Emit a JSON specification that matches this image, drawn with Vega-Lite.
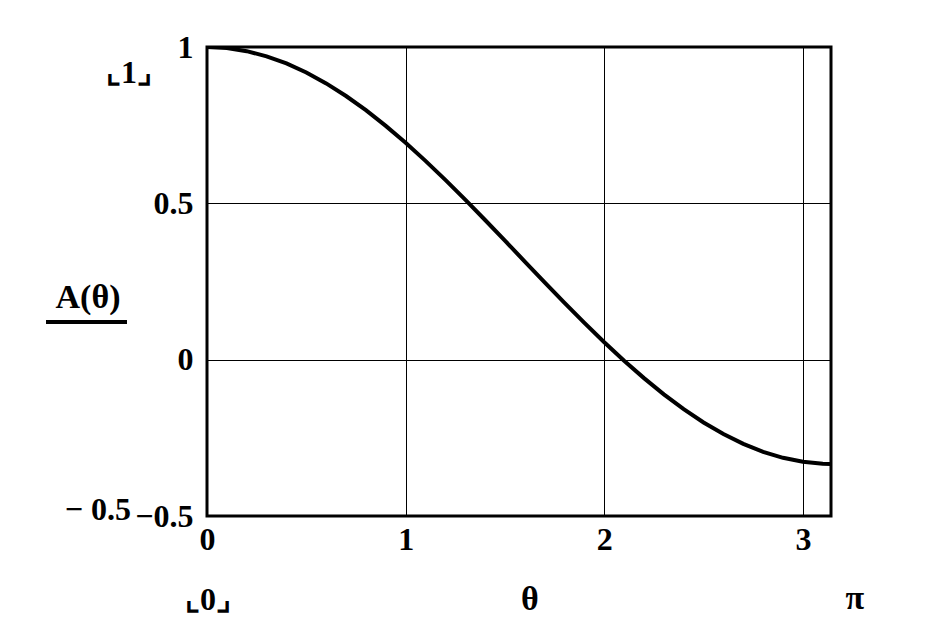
{
  "$schema": "https://vega.github.io/schema/vega-lite/v6.json",
  "autosize": {"type": "none"},
  "width": 624,
  "height": 469,
  "padding": {"left": 207, "top": 47, "right": 113, "bottom": 126},
  "background": "white",
  "config": {
    "view": {"stroke": "black", "strokeWidth": 3},
    "font": "Liberation Serif"
  },
  "datasets": {
    "curve": [
      {"theta": 0.0, "A": 1.0},
      {"theta": 0.1, "A": 0.99667},
      {"theta": 0.2, "A": 0.98671},
      {"theta": 0.3, "A": 0.97023},
      {"theta": 0.4, "A": 0.94737},
      {"theta": 0.5, "A": 0.91839},
      {"theta": 0.6, "A": 0.88356},
      {"theta": 0.7, "A": 0.84323},
      {"theta": 0.8, "A": 0.79781},
      {"theta": 0.9, "A": 0.74774},
      {"theta": 1.0, "A": 0.69353},
      {"theta": 1.1, "A": 0.63573},
      {"theta": 1.2, "A": 0.57491},
      {"theta": 1.3, "A": 0.51167},
      {"theta": 1.4, "A": 0.44665},
      {"theta": 1.5, "A": 0.38049},
      {"theta": 1.6, "A": 0.31387},
      {"theta": 1.7, "A": 0.24744},
      {"theta": 1.8, "A": 0.18187},
      {"theta": 1.9, "A": 0.11781},
      {"theta": 2.0, "A": 0.0559},
      {"theta": 2.1, "A": -0.00323},
      {"theta": 2.2, "A": -0.059},
      {"theta": 2.3, "A": -0.11085},
      {"theta": 2.4, "A": -0.15826},
      {"theta": 2.5, "A": -0.20076},
      {"theta": 2.6, "A": -0.23793},
      {"theta": 2.7, "A": -0.26938},
      {"theta": 2.8, "A": -0.29481},
      {"theta": 2.9, "A": -0.31397},
      {"theta": 3.0, "A": -0.32666},
      {"theta": 3.1, "A": -0.33276},
      {"theta": 3.14159, "A": -0.33333}
    ],
    "labels": [
      {"theta": -0.3927, "A": 0.917, "text": "⌞1⌟", "size": 32},
      {"theta": -0.549, "A": -0.481, "text": "− 0.5", "size": 32},
      {"theta": 0.005, "A": -0.769, "text": "⌞0⌟", "size": 32},
      {"theta": 1.626, "A": -0.769, "text": "θ", "size": 34},
      {"theta": 3.262, "A": -0.765, "text": "π", "size": 34},
      {"theta": -0.599, "A": 0.197, "text": "A(θ)", "size": 34}
    ],
    "underline": [
      {"x1": -0.8105, "x2": -0.4028, "A": 0.1205}
    ]
  },
  "layer": [
    {
      "data": {"name": "curve"},
      "mark": {"type": "line", "color": "black", "strokeWidth": 4, "clip": true},
      "encoding": {
        "x": {
          "field": "theta", "type": "quantitative",
          "scale": {"domain": [0, 3.14159], "nice": false, "zero": false},
          "axis": {
            "values": [0, 1, 2, 3], "format": "d", "title": null,
            "grid": true, "gridColor": "black", "gridOpacity": 1, "gridWidth": 1,
            "domain": false, "ticks": false,
            "labelFont": "Liberation Serif", "labelFontWeight": "bold", "labelFontSize": 32,
            "labelColor": "black", "labelPadding": 8, "labelFlush": false
          }
        },
        "y": {
          "field": "A", "type": "quantitative",
          "scale": {"domain": [-0.5, 1], "nice": false, "zero": false},
          "axis": {
            "values": [-0.5, 0, 0.5, 1], "format": "~g", "title": null,
            "grid": true, "gridColor": "black", "gridOpacity": 1, "gridWidth": 1,
            "domain": false, "ticks": false,
            "labelFont": "Liberation Serif", "labelFontWeight": "bold", "labelFontSize": 32,
            "labelColor": "black", "labelPadding": 14, "labelFlush": false
          }
        }
      }
    },
    {
      "data": {"name": "labels"},
      "mark": {"type": "text", "font": "Liberation Serif", "fontWeight": "bold", "color": "black", "align": "center", "baseline": "middle"},
      "encoding": {
        "x": {"field": "theta", "type": "quantitative"},
        "y": {"field": "A", "type": "quantitative"},
        "text": {"field": "text"},
        "size": {"field": "size", "type": "quantitative", "scale": null}
      }
    },
    {
      "data": {"name": "underline"},
      "mark": {"type": "rule", "color": "black", "strokeWidth": 4},
      "encoding": {
        "x": {"field": "x1", "type": "quantitative"},
        "x2": {"field": "x2"},
        "y": {"field": "A", "type": "quantitative"}
      }
    }
  ]
}
